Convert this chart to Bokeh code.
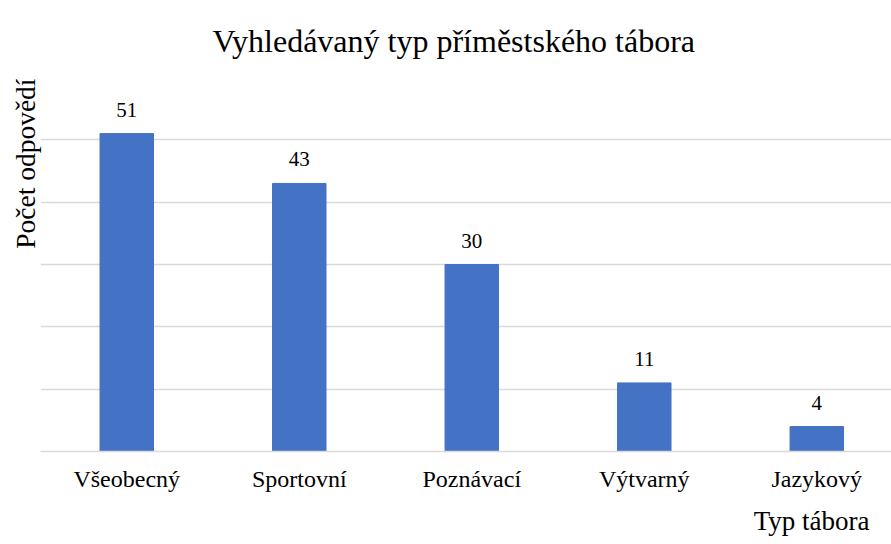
from bokeh.plotting import figure
from bokeh.models import ColumnDataSource, Range1d, FixedTicker, Title
from bokeh.core.properties import value
from bokeh.embed import file_html
from bokeh.resources import INLINE

categories = ["Všeobecný", "Sportovní", "Poznávací", "Výtvarný", "Jazykový"]
counts = [51, 43, 30, 11, 4]
y_ticks = [0, 10, 20, 30, 40, 50, 60]
title_text = "Vyhledávaný typ příměstského tábora"
x_title = "Typ tábora"
y_title = "Počet odpovědí"

FONT = "'Liberation Serif', 'Times New Roman', serif"
positions = [i + 0.5 for i in range(len(categories))]
src = ColumnDataSource(dict(x=positions, top=counts, label=[str(c) for c in counts]))

p = figure(width=891, height=544, x_range=Range1d(0, 4.933), y_range=Range1d(0, 60),
           output_backend="svg", toolbar_location=None,
           min_border_left=40, min_border_right=0, min_border_top=77, min_border_bottom=93)
p.outline_line_color = None
p.background_fill_color = "white"
p.border_fill_color = "white"

p.title.text = title_text
p.title.text_font = FONT
p.title.text_font_size = "32px"
p.title.text_font_style = "normal"
p.title.text_color = "#000000"
p.title.align = "left"
p.title.offset = 172
p.title.vertical_align = "top"
p.title.standoff = 34

p.vbar(x="x", top="top", width=0.31, bottom=0, color="#4472c4", source=src)
p.text(x="x", y="top", text="label", source=src, text_align="center",
       text_baseline="alphabetic", y_offset=-24, text_font=value(FONT),
       text_font_size="21px", text_color="#000000")

p.yaxis.visible = False
p.ygrid.ticker = FixedTicker(ticks=y_ticks)
p.ygrid.grid_line_color = "#d9d9d9"
p.ygrid.grid_line_width = 1.5
p.xgrid.visible = False

xa = p.xaxis[0]
xa.ticker = FixedTicker(ticks=positions)
xa.major_label_overrides = {pos: cat for pos, cat in zip(positions, categories)}
xa.major_tick_line_color = None
xa.minor_tick_line_color = None
xa.axis_line_color = "#d9d9d9"
xa.axis_line_width = 1.5
xa.major_label_text_font = FONT
xa.major_label_text_font_size = "24px"
xa.major_label_text_color = "#000000"
xa.major_label_standoff = 8

p.add_layout(Title(text=x_title, align="right", offset=22, standoff=18, text_font=FONT,
                   text_font_size="27px", text_font_style="normal", text_color="#000000"), "below")
p.add_layout(Title(text=y_title, align="right", offset=1, standoff=0, text_font=FONT,
                   text_font_size="27.5px", text_font_style="normal", text_color="#000000"), "left")

open("out.html", "w").write(file_html(p, INLINE))
